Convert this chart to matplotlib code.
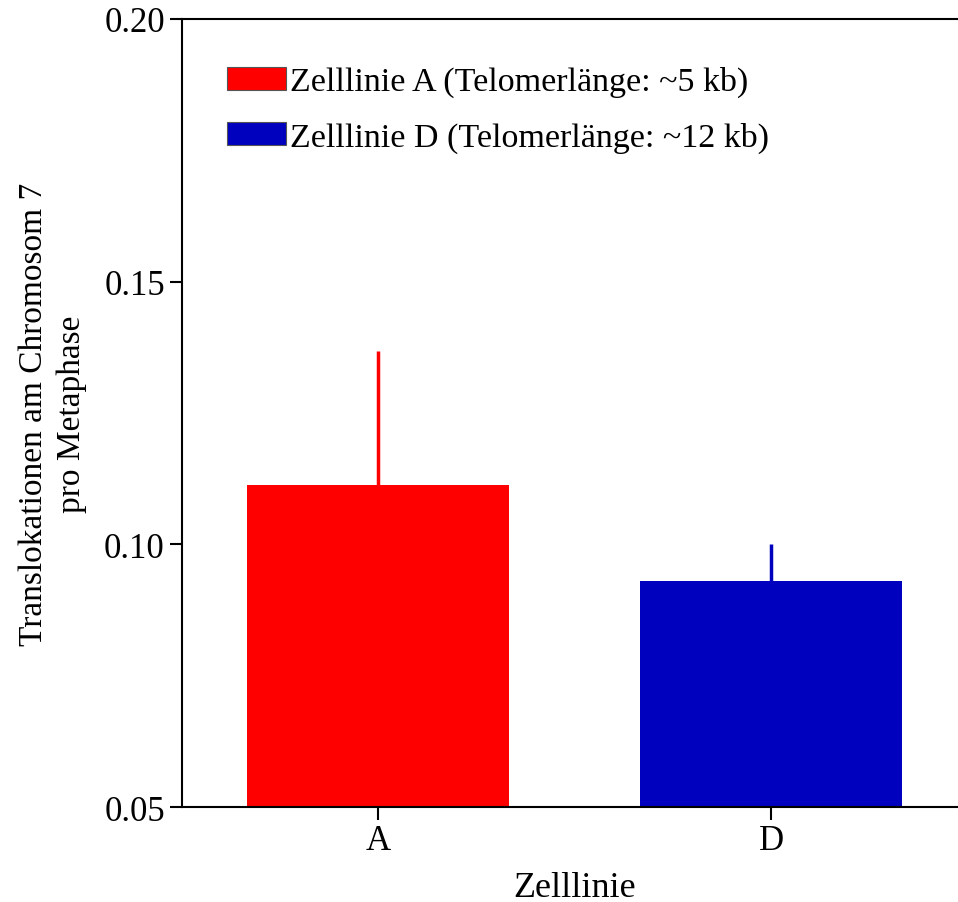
import numpy as np
import matplotlib.pyplot as plt
from matplotlib.patches import Patch

# data
cell_lines = ['A', 'D']
values = [0.1113, 0.0930]
errors = [0.0255, 0.0070]
colors = ['#FF0000', '#0000BF']
legend_labels = ['Zelllinie A (Telomerlänge: ~5 kb)',
                 'Zelllinie D (Telomerlänge: ~12 kb)']
y_ticks = [0.05, 0.10, 0.15, 0.20]

plt.rcParams['font.family'] = ['Liberation Serif', 'DejaVu Serif']

fig = plt.figure(figsize=(9.58, 9.03), dpi=100)
ax = fig.add_axes([0.1895, 0.1052, 0.8205, 0.8727])

x = np.arange(len(cell_lines))
ax.errorbar(x, values, yerr=[np.zeros(len(errors)), errors], fmt='none',
            ecolor=colors, elinewidth=2.5, capsize=0, zorder=1)
ax.bar(x, values, width=0.667, color=colors, zorder=2)

ax.set_xlim(-0.5, 1.5)
ax.set_ylim(0.05, 0.20)
ax.set_xticks(x)
ax.set_xticklabels(cell_lines)
ax.set_yticks(y_ticks)
ax.set_yticklabels([f'{t:.2f}' for t in y_ticks])

for side in ['left', 'bottom', 'top']:
    ax.spines[side].set_linewidth(1.5)
ax.spines['right'].set_visible(False)
ax.tick_params(axis='both', direction='out', length=9, width=1.5,
               labelsize=25, pad=3)

ax.set_xlabel('Zelllinie', fontsize=26, labelpad=10)
ax.set_ylabel('Translokationen am Chromosom 7\npro Metaphase', fontsize=24,
              labelpad=12, linespacing=1.35)

handles = [Patch(facecolor=c, edgecolor='#555555', linewidth=0.8) for c in colors]
ax.legend(handles, legend_labels, loc='upper left', bbox_to_anchor=(0.058, 0.94),
          frameon=False, fontsize=24.5, handlelength=1.74, handleheight=0.65,
          handletextpad=0.1, labelspacing=0.7, borderpad=0, borderaxespad=0)

fig.savefig('out.png', dpi=100)
